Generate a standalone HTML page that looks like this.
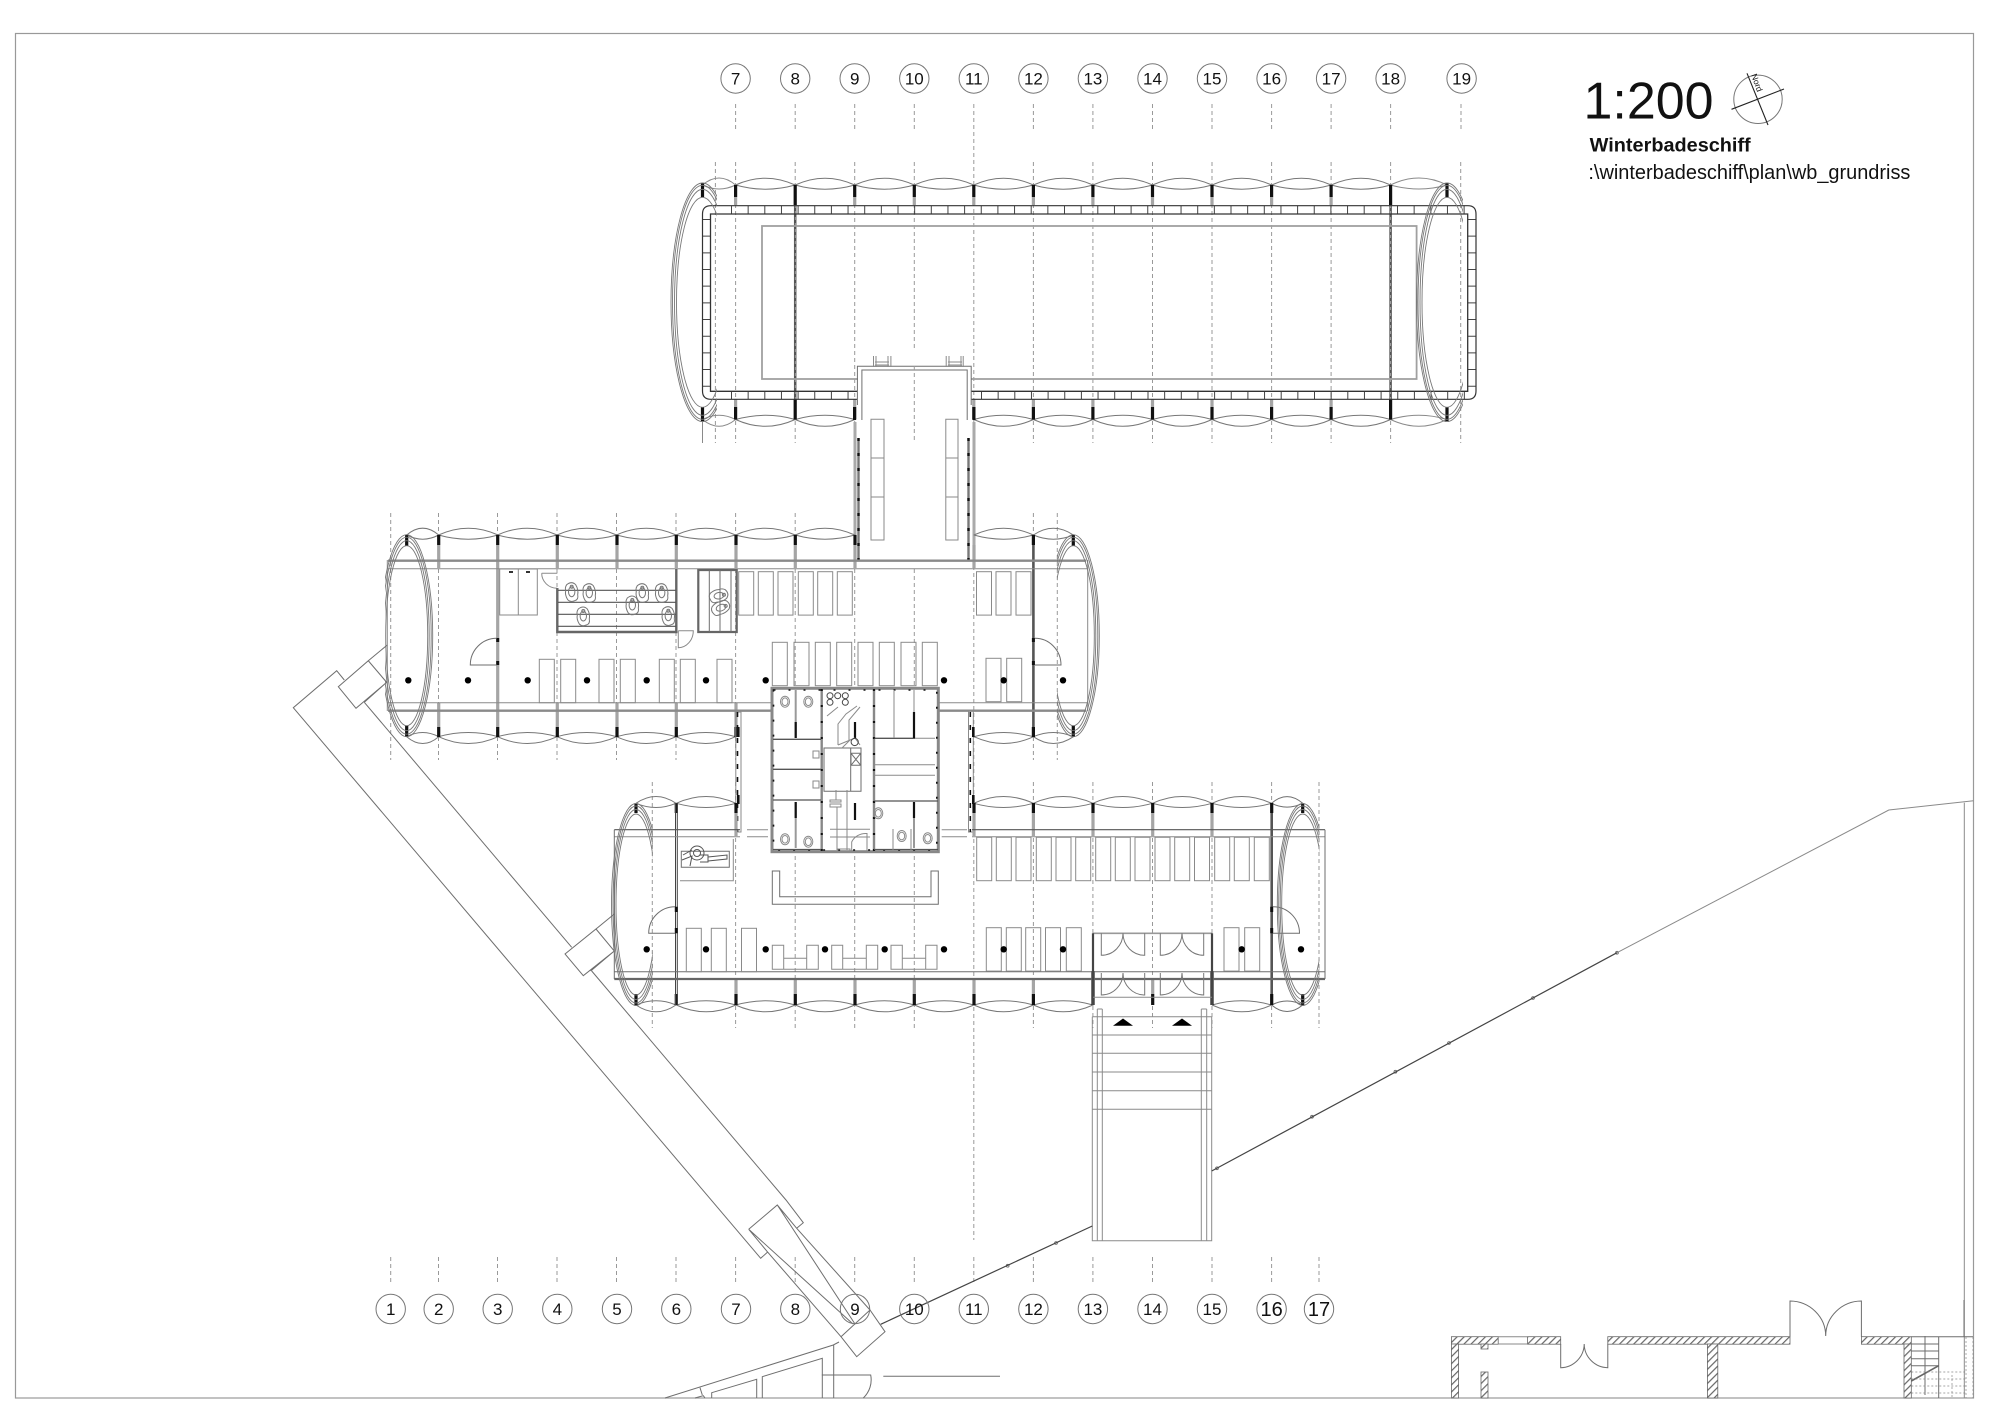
<!DOCTYPE html>
<html lang="de"><head><meta charset="utf-8"><title>Winterbadeschiff</title>
<style>
html,body{margin:0;padding:0;background:#fff}
svg{display:block}
text{font-family:"Liberation Sans",sans-serif;fill:#111}
.g{fill:none;stroke:#8a8a8a;stroke-width:1}
.l{fill:none;stroke:#6e6e6e;stroke-width:1}
.d{fill:none;stroke:#3a3a3a;stroke-width:1.2}
.t{fill:none;stroke:#999;stroke-width:1;stroke-dasharray:4 3}
.c{fill:#fff;stroke:#777;stroke-width:1}
.k{fill:none;stroke:#111;stroke-width:3.2}
.p{fill:none;stroke:#a5a5a5;stroke-width:3.2}
.n text{font-size:17px;text-anchor:middle}
</style></head><body>
<svg width="2000" height="1414" viewBox="0 0 2000 1414" xmlns="http://www.w3.org/2000/svg">
<defs>
<path id="s" d="M0 0Q29.8 -13.6 59.6 0Q29.8 8.4 0 0" fill="none" stroke="#777" stroke-width="1"/>
<path id="b" d="M0 0Q29.8 13.6 59.6 0Q29.8 -8.4 0 0" fill="none" stroke="#777" stroke-width="1"/>
<path id="s2" d="M0 0Q20 -13.6 40 0Q20 8.4 0 0" fill="none" stroke="#777" stroke-width="1"/>
<path id="b2" d="M0 0Q20 13.6 40 0Q20 -8.4 0 0" fill="none" stroke="#777" stroke-width="1"/>
<path id="s3" d="M0 0Q16 -13.6 32 0Q16 8.4 0 0" fill="none" stroke="#777" stroke-width="1"/>
<path id="b3" d="M0 0Q16 13.6 32 0Q16 -8.4 0 0" fill="none" stroke="#777" stroke-width="1"/>
<rect id="r" width="15" height="43.4" fill="none" stroke="#8a8a8a" stroke-width="1"/>
<g id="f" fill="none" stroke="#777" stroke-width="1"><path d="M-5 -7Q0 -11 4 -7Q7 -2 6 3Q7 8 3 9Q-1 11 -4 8Q-7 3 -6 -1Q-7 -4 -5 -7Z"/><ellipse cx="0" cy="0" rx="3.2" ry="5"/><circle cx="0" cy="-5" r="1.5"/></g>
<g id="w" fill="none" stroke="#8a8a8a" stroke-width="1"><ellipse cx="0" cy="0" rx="4.5" ry="5.5"/><ellipse cx="0" cy="0" rx="3" ry="3.8"/></g>
<g id="dd" fill="none" stroke="#777" stroke-width="1"><path d="M0 0V22A21.7 22 0 0 0 21.7 0A21.7 22 0 0 0 43.4 22V0"/></g>
<clipPath id="c1"><rect x="660" y="170" width="57" height="265"/></clipPath>
<clipPath id="c2"><rect x="1400" y="170" width="63" height="265"/></clipPath>
<clipPath id="c3"><rect x="1057" y="525" width="50" height="220"/></clipPath>
<clipPath id="c4"><rect x="385" y="525" width="50" height="220"/></clipPath>
<clipPath id="c5"><rect x="600" y="795" width="52.7" height="220"/></clipPath>
<clipPath id="c6"><rect x="1270" y="795" width="49.3" height="220"/></clipPath>
<pattern id="h" width="5" height="5" patternUnits="userSpaceOnUse" patternTransform="rotate(45)"><rect width="5" height="5" fill="#fff"/><rect width="1.2" height="5" fill="#666"/></pattern>
</defs>
<rect width="2000" height="1414" fill="#fff"/>
<rect x="15.5" y="33.5" width="1958" height="1364.5" fill="none" stroke="#999" stroke-width="1.2"/>

<!-- column dashed lines -->
<path class="t" d="M735.6 104V130M795.2 104V130M854.7 104V130M914.3 104V130M1033.4 104V130M1092.9 104V130M1152.5 104V130M1212 104V130M1271.6 104V130M1331.1 104V130M1390.6 104V130M1461 104V130"/>
<path class="t" d="M715.4 162V443M735.6 162V443M795.2 162V443M854.7 162V443M914.3 162V348M973.8 104V1240M1033.4 162V443M1092.9 162V443M1152.5 162V443M1212 162V443M1271.6 162V443M1331.1 162V443M1390.6 162V443M1460.7 162V443"/>
<path class="t" d="M390.7 513V760M438.5 513V760M497.5 513V760M557 513V760M616.5 513V760M676 513V760M735.6 513V760M795.2 513V1028M854.7 513V1028M914.3 513V1028M1033.4 513V760M1057.3 513V760"/>
<path class="t" d="M652.3 782V1028M735.6 782V1028M1033.4 782V1028M1092.9 782V1028M1152.5 782V1028M1212 782V1028M1271.6 782V1028M1319 782V1028"/>
<path class="t" d="M390.7 1257V1283M438.5 1257V1283M497.5 1257V1283M557 1257V1283M616.5 1257V1283M676 1257V1283M735.6 1257V1283M795.2 1257V1283M854.7 1257V1283M914.3 1257V1283M973.8 1257V1283M1033.4 1257V1283M1092.9 1257V1283M1152.5 1257V1283M1212 1257V1283M1271.6 1257V1283M1319 1257V1283"/>
<path class="g" d="M702.5 407V443"/>

<!-- upper hull -->
<path class="g" d="M702.5 185Q719 171 735.6 185Q719 193 702.5 185M702.5 419.5Q719 433 735.6 419.5Q719 411 702.5 419.5M1390.6 185Q1419 171 1447 185Q1419 193 1390.6 185M1390.6 419.5Q1419 433 1447 419.5Q1419 411 1390.6 419.5"/>
<use href="#s" x="735.6" y="185"/><use href="#s" x="795.2" y="185"/><use href="#s" x="854.7" y="185"/><use href="#s" x="914.3" y="185"/><use href="#s" x="973.8" y="185"/><use href="#s" x="1033.4" y="185"/><use href="#s" x="1092.9" y="185"/><use href="#s" x="1152.5" y="185"/><use href="#s" x="1212" y="185"/><use href="#s" x="1271.6" y="185"/><use href="#s" x="1331.1" y="185"/>
<use href="#b" x="735.6" y="419.5"/><use href="#b" x="795.2" y="419.5"/><use href="#b" x="973.8" y="419.5"/><use href="#b" x="1033.4" y="419.5"/><use href="#b" x="1092.9" y="419.5"/><use href="#b" x="1152.5" y="419.5"/><use href="#b" x="1212" y="419.5"/><use href="#b" x="1271.6" y="419.5"/><use href="#b" x="1331.1" y="419.5"/>
<path class="k" d="M735.6 185V197M795.2 185V205M854.7 185V197M914.3 185V197M973.8 185V197M1033.4 185V197M1092.9 185V197M1152.5 185V197M1212 185V197M1271.6 185V197M1331.1 185V197M1390.6 185V205M702.5 183V197M1447 183V197M735.6 407V419.5M795.2 399V419.5M854.7 407V419.5M973.8 407V419.5M1033.4 407V419.5M1092.9 407V419.5M1152.5 407V419.5M1212 407V419.5M1271.6 407V419.5M1331.1 407V419.5M1390.6 399V419.5M702.5 407V421M1447 407V421"/>
<path class="p" d="M735.6 197V205M854.7 197V205M914.3 197V205M973.8 197V205M1033.4 197V205M1092.9 197V205M1152.5 197V205M1212 197V205M1271.6 197V205M1331.1 197V205M735.6 399V407M854.7 399V407M973.8 399V407M1033.4 399V407M1092.9 399V407M1152.5 399V407M1212 399V407M1271.6 399V407M1331.1 399V407"/>
<path d="M795.2 205V399M1390.6 205V399" fill="none" stroke="#555" stroke-width="2.5"/>
<path d="M795.2 205V399M1390.6 205V399" fill="none" stroke="#ccc" stroke-width=".6" stroke-dasharray="3 3"/>
<rect x="762" y="226" width="654.6" height="153" fill="none" stroke="#a0a0a0" stroke-width="1.8"/>
<path d="M731 209.85H1465" fill="none" stroke="#444" stroke-width="8.3" stroke-dasharray="1 15.65"/>
<path d="M731 395.2H858M981 395.2H1465" fill="none" stroke="#444" stroke-width="8" stroke-dasharray="1 15.65"/>
<path d="M706.6 219V387M1471.8 219V387" fill="none" stroke="#444" stroke-width="8.4" stroke-dasharray="1 15.67"/>
<path d="M857 399.3H711Q702.5 399.3 702.5 391V214Q702.5 205.7 711 205.7H1468Q1476 205.7 1476 214V391Q1476 399.3 1468 399.3H971" fill="none" stroke="#333" stroke-width="1.2"/>
<path d="M857.4 391.3H710.5V214H1467.7V391.3H971" fill="none" stroke="#333" stroke-width="1.3"/>
<g clip-path="url(#c1)" fill="none" stroke="#777" stroke-width=".9"><ellipse cx="702.5" cy="302.3" rx="31.5" ry="119.3"/><ellipse cx="702.5" cy="302.3" rx="30" ry="117"/><ellipse cx="702.5" cy="302.3" rx="28" ry="113"/><ellipse cx="702.5" cy="302.3" rx="26" ry="105"/></g>
<g clip-path="url(#c2)" fill="none" stroke="#777" stroke-width=".9"><ellipse cx="1447" cy="302.3" rx="30.5" ry="119.3"/><ellipse cx="1447" cy="302.3" rx="29" ry="117"/><ellipse cx="1447" cy="302.3" rx="27" ry="113"/><ellipse cx="1447" cy="302.3" rx="25" ry="105"/></g>

<!-- corridor upper -->
<rect x="858" y="366" width="113" height="200" fill="#fff" stroke="none"/>
<path class="l" d="M857.4 405V366.3H971.2V405M861.9 420V370H967.2V420"/>
<path class="g" d="M873.5 356V367M876 356V367M888 356V367M890.9 356V367M875 362H889M875 365H889M946.2 356V367M949 356V367M961 356V367M963.2 356V367M948 362H962M948 365H962"/>
<path class="t" d="M914.3 366V443"/>
<path class="g" d="M871 419.3H884V540H871ZM871 458H884M871 497H884M945.8 419.3H958V540H945.8ZM945.8 458H958M945.8 497H958"/>
<path d="M854.5 407V420M974 407V420" fill="none" stroke="#111" stroke-width="3"/>
<path d="M855 422V558M974 422V558" fill="none" stroke="#aaa" stroke-width="3"/>
<path d="M858.5 438V560M968.5 438V560" fill="none" stroke="#777" stroke-width="2.4"/>
<path d="M858.5 438V560M968.5 438V560" fill="none" stroke="#111" stroke-width="2.4" stroke-dasharray="3 12"/>

<!-- mid hull -->
<use href="#s3" x="406.7" y="535"/><use href="#s" x="438.5" y="535"/><use href="#s" x="497.5" y="535"/><use href="#s" x="557" y="535"/><use href="#s" x="616.5" y="535"/><use href="#s" x="676" y="535"/><use href="#s" x="735.6" y="535"/><use href="#s" x="795.2" y="535"/><use href="#s" x="973.8" y="535"/><use href="#s2" x="1033.4" y="535"/>
<use href="#b3" x="406.7" y="736.7"/><use href="#b" x="438.5" y="736.7"/><use href="#b" x="497.5" y="736.7"/><use href="#b" x="557" y="736.7"/><use href="#b" x="616.5" y="736.7"/><use href="#b" x="676" y="736.7"/><use href="#b" x="974" y="736.7"/><use href="#b2" x="1033.4" y="736.7"/>
<path class="k" d="M406.7 535V546M438.7 535V545M497.7 535V545M557.3 535V545M617 535V545M676.3 535V545M736 535V545M795.3 535V545M855 535V545M1033.4 535V545M1073.3 535V546M406.7 726V737M438.7 727V737M497.7 727V737M557.3 727V737M617 727V737M676.3 727V737M736 727V737M1033.4 727V737M1073.3 726V737"/>
<path class="p" d="M438.7 545V568M497.7 545V703M557.3 545V568M617 545V568M676.3 545V568M736 545V568M795.3 545V568M855 545V568M974 545V568M438.7 703V727M497.7 703V727M557.3 703V727M617 703V727M676.3 703V727M736 703V727"/>
<path d="M1033.4 545V727" fill="none" stroke="#555" stroke-width="2.6"/>
<path d="M388 560.7H1086M388 710.7H771M938 710.7H1086" fill="none" stroke="#8a8a8a" stroke-width="2.4"/>
<path class="g" d="M387.3 560V711M387.3 568.7H1087.7M387.3 702.7H771M938 702.7H1087.7M1087.7 560V711"/>
<g clip-path="url(#c4)" fill="none" stroke="#777" stroke-width=".9"><ellipse cx="406.7" cy="635.7" rx="26" ry="101"/><ellipse cx="406.7" cy="635.7" rx="24.5" ry="98.5"/><ellipse cx="406.7" cy="635.7" rx="22.5" ry="95"/><ellipse cx="406.7" cy="635.7" rx="21" ry="90"/></g>
<g clip-path="url(#c3)" fill="none" stroke="#777" stroke-width=".9"><ellipse cx="1073.3" cy="635.7" rx="26" ry="101"/><ellipse cx="1073.3" cy="635.7" rx="24.5" ry="98.5"/><ellipse cx="1073.3" cy="635.7" rx="22.5" ry="95"/><ellipse cx="1073.3" cy="635.7" rx="21" ry="90"/></g>
<!-- mid hull room left -->
<path d="M497.7 638V665M1033.4 638V665" fill="none" stroke="#111" stroke-width="3" stroke-dasharray="4 19"/>
<path class="l" d="M496.7 638.3A26.5 26.7 0 0 0 470.3 665H496.7M1035 638.3A26 26.7 0 0 1 1061 665H1035"/>
<path class="g" d="M499.7 569H537.3V615H499.7ZM518.3 569V615"/>
<path d="M509 572h4M526 572h4" stroke="#333" stroke-width="2"/>
<path class="g" d="M541.7 573.3H557.3M541.7 573.3A15.6 15 0 0 0 557 588.3"/>
<path d="M557.3 588V632H676.3V569" fill="none" stroke="#666" stroke-width="2.4"/>
<path d="M558 590.3H676M558 602.3H676M558 614.3H676M558 626.3H676" fill="none" stroke="#555" stroke-width="1.2"/>
<g fill="#fff"><use href="#f" x="571.7" y="591.7"/><use href="#f" x="589.3" y="592.7"/><use href="#f" x="642.3" y="592.7"/><use href="#f" x="661.7" y="592.7"/><use href="#f" x="632.3" y="605"/><use href="#f" x="583.3" y="616"/><use href="#f" x="668.3" y="615.7"/></g>
<path d="M698.3 632V570H736.7V632Z" fill="none" stroke="#666" stroke-width="2.2"/>
<path class="l" d="M709.3 570V632M720 570V632M731 570V632"/>
<use href="#f" transform="translate(719 595.7) rotate(80)"/><use href="#f" transform="translate(721 607.7) rotate(70)"/>
<path class="g" d="M678.3 630.7H693.3A15 17 0 0 1 678.3 647.7V630.7"/>

<!-- mid benches -->
<use href="#r" x="539.3" y="659.3"/><use href="#r" x="560.7" y="659.3"/><use href="#r" x="599" y="659.3"/><use href="#r" x="620.3" y="659.3"/><use href="#r" x="659.3" y="659.3"/><use href="#r" x="680.3" y="659.3"/><use href="#r" x="717" y="659.3"/>
<use href="#r" x="738.7" y="571.7"/><use href="#r" x="758.3" y="571.7"/><use href="#r" x="778" y="571.7"/><use href="#r" x="798.3" y="571.7"/><use href="#r" x="817.7" y="571.7"/><use href="#r" x="837.3" y="571.7"/>
<use href="#r" x="976.5" y="571.7"/><use href="#r" x="996" y="571.7"/><use href="#r" x="1016" y="571.7"/>
<use href="#r" x="772.3" y="642.3"/><use href="#r" x="794" y="642.3"/><use href="#r" x="815.3" y="642.3"/><use href="#r" x="836.7" y="642.3"/><use href="#r" x="858" y="642.3"/><use href="#r" x="879.3" y="642.3"/><use href="#r" x="901" y="642.3"/><use href="#r" x="922.3" y="642.3"/>
<use href="#r" x="986" y="658.3"/><use href="#r" x="1006.7" y="658.3"/>
<g fill="#000"><circle cx="408.3" cy="680.3" r="3.2"/><circle cx="468" cy="680.3" r="3.2"/><circle cx="527.7" cy="680.3" r="3.2"/><circle cx="587" cy="680.3" r="3.2"/><circle cx="646.7" cy="680.3" r="3.2"/><circle cx="706" cy="680.3" r="3.2"/><circle cx="765.7" cy="680.3" r="3.2"/><circle cx="944" cy="680.3" r="3.2"/><circle cx="1003.7" cy="680.3" r="3.2"/><circle cx="1063" cy="680.3" r="3.2"/></g>

<!-- core -->
<rect x="772" y="688.3" width="166.3" height="163.4" fill="#fff" stroke="none"/>
<rect x="772" y="688.3" width="166.3" height="163.4" fill="none" stroke="#888" stroke-width="3"/>
<rect x="773.5" y="690" width="163.3" height="160" fill="none" stroke="#111" stroke-width="1.6" stroke-dasharray="2 13"/>
<path d="M821.7 689V851M874 689V851" fill="none" stroke="#888" stroke-width="2.4"/>
<path d="M821.7 689V851M874 689V851" fill="none" stroke="#111" stroke-width="2.2" stroke-dasharray="2 14"/>
<path d="M773 739.3H821M773 769.3H821M773 800H821M874.5 738.3H915M874.5 801H938M773 849.5H821M874 849.5H938" fill="none" stroke="#555" stroke-width="1.3"/>
<path class="g" d="M875 764.7H935M875 775.3H935M915 738.3H935M894 690V738M914 690V738"/>
<path d="M795.7 690V738M795.7 802V848M914 802V848" fill="none" stroke="#999" stroke-width="2"/>
<path d="M795.7 722V738M795.7 802V818M914 802V818M855 722V738M855 803V820M914 712V738" fill="none" stroke="#111" stroke-width="2.2"/>
<path class="l" d="M824 748H850.7V791.3H824ZM850.7 748H861V791.3H850.7ZM851 753.3H860.7V765.3H851ZM851 753.3L860.7 765.3M860.7 753.3L851 765.3"/>
<path class="g" d="M836 790V800M830 800H841V802H830ZM830 804H841V807H830ZM837 807V850M847 790V850M830 829.3H870M830 837H870"/>
<path class="g" d="M838 707L827 716M857 706L846 714L838 724V745M860 707L849 720V740M850 740L842 748M838 745L855 738M855 738L860 745"/>
<g fill="none" stroke="#444" stroke-width="1"><circle cx="830" cy="695.7" r="3"/><circle cx="837.7" cy="695.7" r="3"/><circle cx="845.3" cy="695.7" r="3"/><circle cx="830" cy="702.3" r="3"/><circle cx="845.3" cy="702.3" r="3"/><circle cx="854.7" cy="742" r="3.6"/></g>
<use href="#w" x="785" y="701.7"/><use href="#w" x="808.3" y="701.7"/><use href="#w" x="785" y="839.3"/><use href="#w" x="808.3" y="841.7"/><use href="#w" x="901.7" y="836"/><use href="#w" x="927.7" y="838.3"/><use href="#w" x="878.3" y="813.3"/>
<path class="g" d="M813 751h6v7h-6zM813 781h6v7h-6zM893 829V850M911 829V850"/>
<path class="g" d="M851.7 851.7V842A15 13 0 0 1 867 833.5V851.7"/>
<path class="g" d="M837.7 849H850V852H837.7Z"/>

<!-- left-right connectors -->
<path class="g" d="M735.8 712H741V832H735.8ZM968.5 710H973.3V832H968.5Z"/>
<path d="M737.5 712V832M970.3 712V832" fill="none" stroke="#111" stroke-width="1.6" stroke-dasharray="5 8"/>
<path d="M738.3 727V737M738.3 795V804M973.3 727V737M973.3 795V804" fill="none" stroke="#111" stroke-width="2.6"/>

<!-- lower hull -->
<use href="#s2" x="636" y="803.3"/><use href="#s" x="676.3" y="803.3"/><use href="#s" x="973.8" y="803.3"/><use href="#s" x="1033.4" y="803.3"/><use href="#s" x="1092.9" y="803.3"/><use href="#s" x="1152.5" y="803.3"/><use href="#s" x="1212" y="803.3"/><path d="M1271.6 803.3Q1287 790 1302.7 803.3Q1287 811 1271.6 803.3" class="l"/>
<use href="#b2" x="636" y="1005"/><use href="#b" x="676.3" y="1005"/><use href="#b" x="735.6" y="1005"/><use href="#b" x="795.2" y="1005"/><use href="#b" x="854.7" y="1005"/><use href="#b" x="914.3" y="1005"/><use href="#b" x="973.8" y="1005"/><use href="#b" x="1033.4" y="1005"/><use href="#b" x="1212" y="1005"/><path d="M1271.6 1005Q1287 1018 1302.7 1005Q1287 997 1271.6 1005" class="l"/>
<path class="k" d="M636 803.3V813M676.3 803.3V813M736 803V813M974 803V813M1033.4 803V813M1093 803V813M1152.7 803V813M1212 803V813M1271.7 803V813M1302.7 803.3V813M636 994V1005.7M676.3 994V1005M736 994V1005M795.3 994V1005M855 994V1005M914.3 994V1005M974 994V1005M1033.4 994V1005M1093 971V1005M1152.7 994V1005M1212 971V1005M1271.7 994V1005M1302.7 994V1005.7"/>
<path class="p" d="M736 813V836M974 813V836M1033.4 813V836M1093 813V836M1152.7 813V836M1212 813V836M736 980V994M795.3 980V994M855 980V994M914.3 980V994M974 980V994M1033.4 980V994M1152.7 980V994"/>
<path d="M1271.7 813V994" fill="none" stroke="#555" stroke-width="2.6"/>
<path d="M675.5 803V1005M677.3 803V1005" fill="none" stroke="#444" stroke-width="1"/>
<path d="M676.3 906.7V912M676.3 928V933.3M1271.7 906.7V912M1271.7 928V933.3" fill="none" stroke="#111" stroke-width="3"/>
<path class="l" d="M675 906.7A26.3 26.6 0 0 0 648.7 933.3H675M1273 906.7A26.3 26.6 0 0 1 1299.5 933.3H1273"/>
<path d="M614.3 829.7H740M972 829.7H1325" fill="none" stroke="#555" stroke-width="1.2"/>
<path class="g" d="M614.3 836.7H740M972 836.7H1325M747 829.7H768M747 836.7H768M941.7 829.7H967M941.7 836.7H967" stroke-width="1.4"/>
<path d="M614.3 979H1325" fill="none" stroke="#666" stroke-width="2.2"/>
<path class="l" d="M614.3 971.7H1325M614.3 829.7V979M1325 829.7V979"/>
<g clip-path="url(#c5)" fill="none" stroke="#777" stroke-width=".9"><ellipse cx="636" cy="904.5" rx="24.5" ry="101"/><ellipse cx="636" cy="904.5" rx="23" ry="98.5"/><ellipse cx="636" cy="904.5" rx="21.5" ry="95"/><ellipse cx="636" cy="904.5" rx="20" ry="90.5"/></g>
<g clip-path="url(#c6)" fill="none" stroke="#777" stroke-width=".9"><ellipse cx="1302.7" cy="904.5" rx="25.4" ry="101"/><ellipse cx="1302.7" cy="904.5" rx="24" ry="98.5"/><ellipse cx="1302.7" cy="904.5" rx="22.5" ry="95"/><ellipse cx="1302.7" cy="904.5" rx="21" ry="90.5"/></g>
<!-- massage -->
<path class="g" d="M733.3 839V880.7H680"/>
<path class="l" d="M681.3 851.3H729.3V867.3H681.3Z"/>
<g fill="none" stroke="#555" stroke-width="1"><circle cx="697" cy="853" r="7"/><circle cx="697" cy="853" r="3.5"/><path d="M683 855L692 850M682 860L692 856L690 866M700 855H708V862H700M708 857L727 855V859L708 861"/></g>
<!-- U -->
<path class="l" d="M772.3 871V904.3H938.3V871H931V896.7H779.7V871Z"/>
<!-- lower benches -->
<use href="#r" x="976.7" y="837.3"/><use href="#r" x="996.3" y="837.3"/><use href="#r" x="1016" y="837.3"/><use href="#r" x="1036.3" y="837.3"/><use href="#r" x="1056" y="837.3"/><use href="#r" x="1075.7" y="837.3"/><use href="#r" x="1095.7" y="837.3"/><use href="#r" x="1115.3" y="837.3"/><use href="#r" x="1135" y="837.3"/><use href="#r" x="1155" y="837.3"/><use href="#r" x="1174.7" y="837.3"/><use href="#r" x="1194.5" y="837.3"/><use href="#r" x="1214.7" y="837.3"/><use href="#r" x="1234.3" y="837.3"/><use href="#r" x="1254.3" y="837.3"/>
<use href="#r" x="686.3" y="928.3"/><use href="#r" x="711.3" y="928.3"/><use href="#r" x="741.5" y="928.3"/>
<use href="#r" x="986.3" y="927.7"/><use href="#r" x="1006.3" y="927.7"/><use href="#r" x="1025.7" y="927.7"/><use href="#r" x="1045.5" y="927.7"/><use href="#r" x="1066.3" y="927.7"/>
<use href="#r" x="1224" y="927.7"/><use href="#r" x="1244.7" y="927.7"/>
<path class="g" d="M772.3 945.3H783.7V969.3H772.3ZM806.7 945.3H818.3V969.3H806.7ZM783.7 958.3H806.7M783.7 969.3H806.7M831.7 945.3H842.7V969.3H831.7ZM866.3 945.3H877.7V969.3H866.3ZM842.7 958.3H866.3M842.7 969.3H866.3M891 945.3H902.3V969.3H891ZM925.7 945.3H937V969.3H925.7ZM902.3 958.3H925.7M902.3 969.3H925.7"/>
<g fill="#000"><circle cx="646.7" cy="949.3" r="3.2"/><circle cx="706" cy="949.3" r="3.2"/><circle cx="765.7" cy="949.3" r="3.2"/><circle cx="825" cy="949.3" r="3.2"/><circle cx="884.7" cy="949.3" r="3.2"/><circle cx="944" cy="949.3" r="3.2"/><circle cx="1003.7" cy="949.3" r="3.2"/><circle cx="1063" cy="949.3" r="3.2"/><circle cx="1241.7" cy="949.3" r="3.2"/><circle cx="1301" cy="949.3" r="3.2"/></g>

<!-- entry -->
<path d="M1093 933.3H1212" fill="none" stroke="#999" stroke-width="1.6"/>
<path d="M1093 933.3V1005M1212 933.3V1005" fill="none" stroke="#444" stroke-width="2.2"/>
<path class="g" d="M1093 997.3H1212" stroke-width="1.4"/>
<use href="#dd" x="1101.3" y="933.3"/><use href="#dd" x="1160.3" y="933.3"/><use href="#dd" x="1101.3" y="973"/><use href="#dd" x="1160.3" y="973"/>

<!-- ramp -->
<path class="g" d="M1092.3 1016.7V1240.7H1211.7V1016.7M1097.3 1009V1240.7M1102.3 1009V1240.7M1097.3 1009H1102.3M1201.3 1009V1240.7M1206.7 1009V1240.7M1201.3 1009H1206.7M1092.3 1016.7H1211.7M1092.3 1035H1211.7M1092.3 1053.3H1211.7M1092.3 1072H1211.7M1092.3 1090.7H1211.7M1092.3 1109.3H1211.7" stroke-width="1.1"/>
<path d="M1123 1018.5L1113 1025.7H1133ZM1182 1018.5L1172 1025.7H1192Z" fill="#000"/>

<!-- shore -->
<g fill="#fff" stroke="#666" stroke-width=".8"><circle cx="1217" cy="1168.3" r="1.4"/><circle cx="1312" cy="1116.7" r="1.4"/><circle cx="1395.4" cy="1071.7" r="1.4"/><circle cx="1449" cy="1043" r="1.4"/><circle cx="1533" cy="998" r="1.4"/><circle cx="1617" cy="952.7" r="1.4"/><circle cx="1056" cy="1243" r="1.4"/><circle cx="1007.7" cy="1265.7" r="1.4"/></g>
<path d="M1211.7 1171L1617 952.7M1092.3 1226L880.7 1324.3" fill="none" stroke="#444" stroke-width="1.2"/>
<path class="g" d="M1617 952.7L1888.8 810L1973.5 800.7M1964.3 802.7V1398"/>

<!-- gangway -->
<path class="l" d="M344.3 680L336.7 670.7L293.3 707.7L760.7 1258.3L767.7 1252M364.3 702.3L571.7 947.3M591.7 971L786 1200L803.3 1222.7L796.7 1228.3"/>
<path class="l" d="M338.3 686.7L368.3 660.7L386.7 682.3L356 708.3ZM368.3 660.7L387.3 645M364.3 702.3L386.7 682.3M565 954L596 929L614.3 951L583.3 975.7ZM596 929L614.3 914M590.7 971L614.3 951M368.5 661L386.8 682.5"/>
<path class="l" d="M748.7 1229.3L777.3 1205L796.7 1228.3L870 1310M748.7 1229.3L767.3 1251.7L841 1336.7M748.7 1229.3L853 1324M777.3 1205L855 1324"/>
<path class="l" d="M841 1336.7L870 1310L885 1331.7L856.7 1356.7Z"/>
<path class="l" d="M665 1398L833.3 1345L839 1342M833.7 1345V1398M700 1387.7L702.3 1395M695 1398L703.3 1395.7L705 1398M711.7 1398V1392.7L756.7 1379.3V1398M762.3 1398V1376.7L822.3 1358.3V1398M821.7 1375H870.7A25 25 0 0 1 863.3 1398M883.3 1376.3H1000"/>

<!-- building -->
<g fill="url(#h)" stroke="#666" stroke-width=".8">
<rect x="1451.4" y="1336.7" width="46.8" height="7.5"/><rect x="1527.5" y="1336.7" width="33.2" height="7.5"/><rect x="1607.8" y="1336.7" width="182.2" height="7.5"/><rect x="1861.4" y="1336.7" width="49.9" height="7.5"/>
<rect x="1451.4" y="1344" width="7.2" height="54"/><rect x="1707.4" y="1344" width="10.4" height="54"/><rect x="1481" y="1372" width="7" height="26"/><rect x="1481" y="1344" width="7" height="5"/><rect x="1904" y="1344" width="7.3" height="54"/>
</g>
<path class="g" d="M1498.2 1336.7H1527.5M1498.2 1344H1527.5"/>
<path class="l" d="M1560.7 1344V1367.7A24 24 0 0 0 1584.2 1344A24 24 0 0 0 1607.8 1367.7V1344M1790 1336.7V1301A36 35 0 0 1 1825.7 1336A36 35 0 0 1 1861.4 1301V1336.7"/>
<path class="l" d="M1911.3 1336.7H1973M1938.7 1336.7V1398M1925 1336V1395M1964 1300V1336.7M1911.3 1344H1938.7M1911.3 1351H1938.7M1911.3 1358.7H1938.7M1911.3 1365.7H1938.7"/>
<path d="M1911.3 1381L1938.7 1365.7" stroke="#666" stroke-width="1.6"/>
<path d="M1911.3 1372H1966M1911.3 1379H1966M1911.3 1386H1966M1911.3 1393H1966M1966 1337V1398M1952 1375V1398M1973 1337V1398" fill="none" stroke="#888" stroke-width=".7" stroke-dasharray="2 2"/>

<!-- numbered circles top -->
<g class="n">
<circle class="c" cx="735.6" cy="78.5" r="14.7"/><text x="735.6" y="84.5">7</text>
<circle class="c" cx="795.2" cy="78.5" r="14.7"/><text x="795.2" y="84.5">8</text>
<circle class="c" cx="854.7" cy="78.5" r="14.7"/><text x="854.7" y="84.5">9</text>
<circle class="c" cx="914.3" cy="78.5" r="14.7"/><text x="914.3" y="84.5">10</text>
<circle class="c" cx="973.8" cy="78.5" r="14.7"/><text x="973.8" y="84.5">11</text>
<circle class="c" cx="1033.4" cy="78.5" r="14.7"/><text x="1033.4" y="84.5">12</text>
<circle class="c" cx="1092.9" cy="78.5" r="14.7"/><text x="1092.9" y="84.5">13</text>
<circle class="c" cx="1152.5" cy="78.5" r="14.7"/><text x="1152.5" y="84.5">14</text>
<circle class="c" cx="1212" cy="78.5" r="14.7"/><text x="1212" y="84.5">15</text>
<circle class="c" cx="1271.6" cy="78.5" r="14.7"/><text x="1271.6" y="84.5">16</text>
<circle class="c" cx="1331.1" cy="78.5" r="14.7"/><text x="1331.1" y="84.5">17</text>
<circle class="c" cx="1390.6" cy="78.5" r="14.7"/><text x="1390.6" y="84.5">18</text>
<circle class="c" cx="1461.6" cy="78.5" r="14.7"/><text x="1461.6" y="84.5">19</text>
</g>
<!-- numbered circles bottom -->
<g class="n" >
<g fill="none"><circle cx="390.7" cy="1309" r="14.7" fill="none" stroke="#777"/><circle cx="438.7" cy="1309" r="14.7" fill="none" stroke="#777"/><circle cx="497.7" cy="1309" r="14.7" fill="none" stroke="#777"/><circle cx="557.3" cy="1309" r="14.7" fill="none" stroke="#777"/><circle cx="617" cy="1309" r="14.7" fill="none" stroke="#777"/><circle cx="676.3" cy="1309" r="14.7" fill="none" stroke="#777"/><circle cx="736" cy="1309" r="14.7" fill="none" stroke="#777"/><circle cx="795.3" cy="1309" r="14.7" fill="none" stroke="#777"/><circle cx="855" cy="1309" r="14.7" fill="none" stroke="#777"/><circle cx="914.3" cy="1309" r="14.7" fill="none" stroke="#777"/><circle cx="973.8" cy="1309" r="14.7" fill="none" stroke="#777"/><circle cx="1033.4" cy="1309" r="14.7" fill="none" stroke="#777"/><circle cx="1092.9" cy="1309" r="14.7" fill="none" stroke="#777"/><circle cx="1152.5" cy="1309" r="14.7" fill="none" stroke="#777"/><circle cx="1212" cy="1309" r="14.7" fill="none" stroke="#777"/><circle cx="1271.6" cy="1309" r="14.7" fill="none" stroke="#777"/><circle cx="1319" cy="1309" r="14.7" fill="none" stroke="#777"/></g>
<text x="390.7" y="1315">1</text><text x="438.7" y="1315">2</text><text x="497.7" y="1315">3</text><text x="557.3" y="1315">4</text><text x="617" y="1315">5</text><text x="676.3" y="1315">6</text><text x="736" y="1315">7</text><text x="795.3" y="1315">8</text><text x="855" y="1315">9</text><text x="914.3" y="1315">10</text><text x="973.8" y="1315">11</text><text x="1033.4" y="1315">12</text><text x="1092.9" y="1315">13</text><text x="1152.5" y="1315">14</text><text x="1212" y="1315">15</text>
<text x="1271.6" y="1316" style="font-size:20px">16</text><text x="1319" y="1316" style="font-size:20px">17</text>
</g>

<!-- title -->
<text x="1583.5" y="118.3" font-size="52" textLength="130" lengthAdjust="spacingAndGlyphs">1:200</text>
<text x="1589.7" y="151.7" font-size="19" font-weight="bold" textLength="161" lengthAdjust="spacingAndGlyphs">Winterbadeschiff</text>
<text x="1588.4" y="179" font-size="20" textLength="322" lengthAdjust="spacingAndGlyphs">:\winterbadeschiff\plan\wb_grundriss</text>
<circle cx="1758" cy="99.3" r="24.2" fill="none" stroke="#777" stroke-width="1"/>
<path d="M1747 73.3L1768 125M1731.5 109.3L1784 89" fill="none" stroke="#222" stroke-width="1.1"/>
<text transform="translate(1751 75) rotate(70)" font-size="8.5">Nord</text>
</svg>
</body></html>
